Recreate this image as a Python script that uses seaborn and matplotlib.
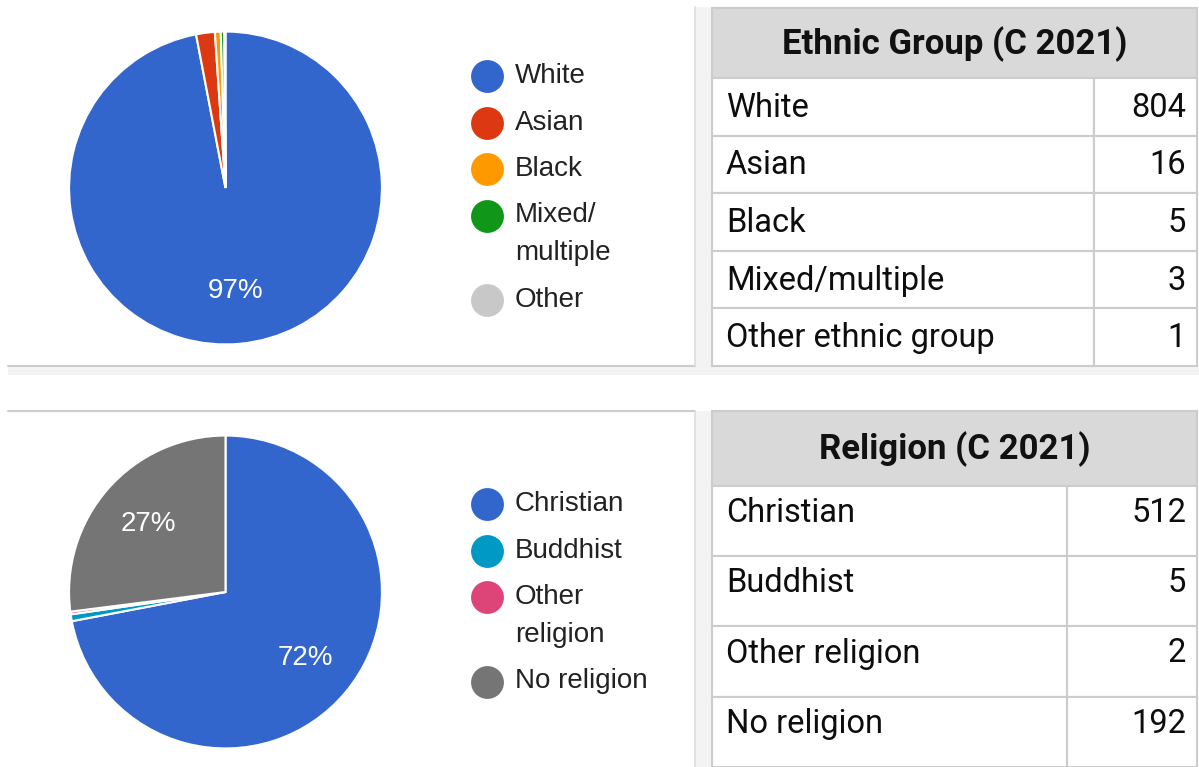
import seaborn as sns
import matplotlib.pyplot as plt
from matplotlib.patches import Rectangle

#-----------------------------------------------------------------------------------------------------------------------
"""Data"""
eth_legend = ["White", "Asian", "Black", "Mixed/\nmultiple", "Other"]
eth_table = ["White", "Asian", "Black", "Mixed/multiple", "Other ethnic group"]
eth_values = [804, 16, 5, 3, 1]
eth_colors = ["#3366cc", "#dc3912", "#ff9900", "#109618", "#c8c8c8"]

rel_legend = ["Christian", "Buddhist", "Other\nreligion", "No religion"]
rel_table = ["Christian", "Buddhist", "Other religion", "No religion"]
rel_values = [512, 5, 2, 192]
rel_colors = ["#3366cc", "#0099c6", "#dd4477", "#757575"]

eth_title = "Ethnic Group (C 2021)"
rel_title = "Religion (C 2021)"

#-----------------------------------------------------------------------------------------------------------------------
"""Figure + background"""
sns.set_theme(style="white")
W, H = 1199, 767
fig = plt.figure(figsize=(W / 100, H / 100), dpi=100)
fig.patch.set_facecolor("white")

bg = fig.add_axes([0, 0, 1, 1])
bg.set_xlim(0, W)
bg.set_ylim(H, 0)
bg.axis("off")

strip = "#f3f3f3"
edge = "#cdcdcd"
# grey gaps between the boxes
bg.add_patch(Rectangle((695, 7), 17, H - 7, color=strip, lw=0))
bg.add_patch(Rectangle((8, 366), W - 8, 9, color=strip, lw=0))
bg.add_patch(Rectangle((695, 375), 17, 36, color="white", lw=0))
# left panel borders
bg.plot([8, 695], [366, 366], color=edge, lw=1.5)
bg.plot([8, 695], [411, 411], color=edge, lw=1.5)
bg.plot([695, 695], [7, 366], color="#dddddd", lw=1.2)
bg.plot([695, 695], [411, H], color="#dddddd", lw=1.2)

#-----------------------------------------------------------------------------------------------------------------------
"""Pies"""
def pie_axes(cx, cy, r):
    return fig.add_axes([(cx - r) / W, (H - cy - r) / H, 2 * r / W, 2 * r / H])

def draw_pie(ax, values, colors):
    ax.pie(values, colors=colors, startangle=90, counterclock=False,
           wedgeprops=dict(edgecolor="white", linewidth=1.5),
           autopct=lambda p: f"{p:.0f}%" if p > 5 else "", pctdistance=0.66,
           textprops=dict(color="white", fontsize=20, family="Liberation Sans"))
    ax.set_xlim(-1.01, 1.01)
    ax.set_ylim(-1.01, 1.01)
    ax.set_aspect("equal")
    ax.axis("off")

draw_pie(pie_axes(225.5, 188, 158), eth_values, eth_colors)
draw_pie(pie_axes(225.5, 592, 158), rel_values, rel_colors)

#-----------------------------------------------------------------------------------------------------------------------
"""Legends"""
def draw_legend(y0, labels, colors):
    y = y0
    for lab, col in zip(labels, colors):
        bg.scatter([487], [y], s=560, color=col, zorder=5, lw=0)
        lines = lab.split("\n")
        for i, ln in enumerate(lines):
            bg.text(515, y + 38 * i, ln, fontsize=20, family="Liberation Sans",
                    color="#222222", va="center", ha="left")
        y += 46.5 + 38 * (len(lines) - 1)

draw_legend(76, eth_legend, eth_colors)
draw_legend(504, rel_legend, rel_colors)

#-----------------------------------------------------------------------------------------------------------------------
"""Tables"""
def draw_table(top, head_h, row_h, col_x, title, labels, values, dy):
    x0, x1 = 712, 1197
    lc = "#cccccc"
    bg.add_patch(Rectangle((x0, top), x1 - x0, head_h, facecolor="#d9d9d9", edgecolor=lc, lw=1.5))
    bg.text((x0 + x1) / 2, top + head_h / 2 + 1, title, fontsize=25, fontweight="bold",
            family="Roboto", color="#111111", ha="center", va="center")
    for i, (lab, val) in enumerate(zip(labels, values)):
        yt = top + head_h + i * row_h
        bg.add_patch(Rectangle((x0, yt), col_x - x0, row_h, facecolor="white", edgecolor=lc, lw=1.5))
        bg.add_patch(Rectangle((col_x, yt), x1 - col_x, row_h, facecolor="white", edgecolor=lc, lw=1.5))
        yc = yt + row_h / 2 + dy
        bg.text(x0 + 14, yc, lab, fontsize=23.5, family="Roboto", color="#0d0d0d",
                ha="left", va="center")
        bg.text(1186, yc, str(val), fontsize=23.5, family="Roboto", color="#0d0d0d",
                ha="right", va="center")

draw_table(8, 70, 57.6, 1094, eth_title, eth_table, eth_values, 1)
draw_table(411, 75, 70.2, 1067, rel_title, rel_table, rel_values, -8)

#-----------------------------------------------------------------------------------------------------------------------
"""Save"""
fig.savefig("out.png", dpi=100, facecolor="white")
